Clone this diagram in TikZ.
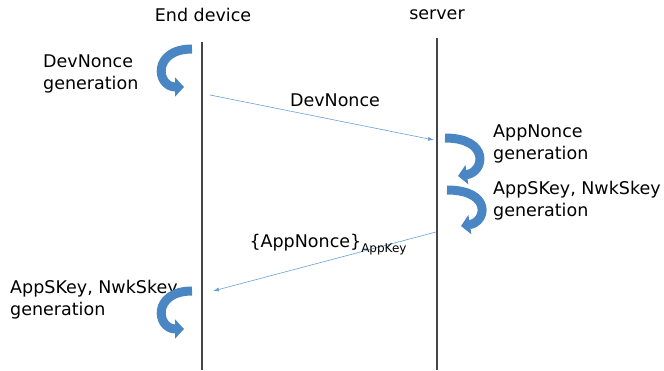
\documentclass[tikz,border=0pt]{standalone}
\usepackage{fontspec}
\setmainfont{DejaVu Sans}
\usepackage{tikz}
\usetikzlibrary{arrows.meta}
\usetikzlibrary{positioning}
\definecolor{curlblue}{RGB}{74,134,196}
\definecolor{msgblue}{RGB}{105,160,215}
\definecolor{lifegray}{RGB}{70,70,70}

\begin{document}
\begin{tikzpicture}[x=1pt,y=-1pt,line cap=butt,line join=round,
  lbl/.style={inner sep=0pt,align=left,font=\fontsize{17.5}{22}\selectfont},
  lifeline/.style={line width=1.4pt,color=lifegray},
  msg/.style={line width=0.6pt,color=msgblue,-{Latex[length=6pt,width=4pt]}},
  curl/.style={line width=9pt,color=curlblue,-{Triangle[length=9pt,width=19pt]}}]
\useasboundingbox (0,0) rectangle (664,371);
% lifelines
\coordinate (dtop) at (202,42);
\coordinate (dbot) at (202,370);
\coordinate (stop) at (437,38);
\coordinate (sbot) at (437,370);
\draw[lifeline] (dtop) -- (dbot);
\draw[lifeline] (stop) -- (sbot);
\node[lbl] (dev) at (203,15) {End device};
\node[lbl] (srv) at (437,15) {server};
% local steps
\node[lbl,anchor=west] (devgen) at (43,74) {DevNonce\\generation};
\draw[curl] (192,49) .. controls (152,49) and (156,87) .. (184,87);
\node[lbl,anchor=west] (appgen) at (493,144) {AppNonce\\generation};
\draw[curl] (445,138) .. controls (490,138) and (485,172) .. (458,176);
\node[lbl,anchor=west] (keygen) at (493,201) {AppSKey, NwkSkey\\generation};
\draw[curl] (447,190) .. controls (492,190) and (487,222) .. (461,226);
\node[lbl,anchor=west] (devkey) at (10,300) {AppSKey, NwkSkey\\generation};
\draw[curl] (192,291) .. controls (152,291) and (156,329) .. (184,329);
% messages
\coordinate (m1a) at (210,95);
\coordinate (m1b) at (434,140);
\coordinate (m2a) at (436,232);
\coordinate (m2b) at (213,291);
\draw[msg] (m1a) -- (m1b);
\draw[msg] (m2a) -- (m2b);
\node[lbl] (nonce) at (335,100) {DevNonce};
\node[lbl] (appnonce) at (328,245) {\{AppNonce\}\raisebox{-5pt}{\fontsize{12}{12}\selectfont AppKey}};
\end{tikzpicture}
\end{document}
